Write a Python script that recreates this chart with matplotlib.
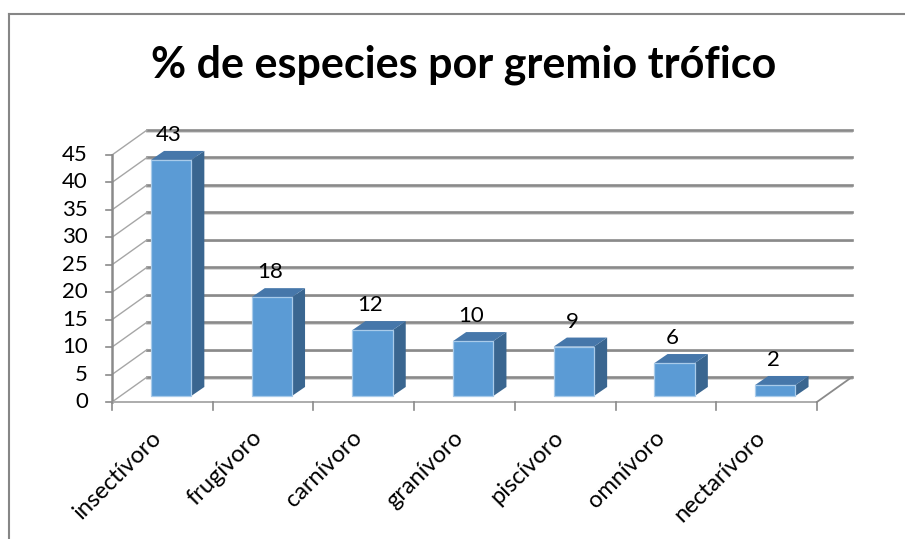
import matplotlib
matplotlib.use("Agg")
import matplotlib.pyplot as plt
from matplotlib.patches import Polygon
from matplotlib.lines import Line2D

plt.rcParams['font.family'] = ['Lato', 'DejaVu Sans']

# datos
gremios = ['insectívoro', 'frugívoro', 'carnívoro', 'granívoro',
           'piscívoro', 'omnívoro', 'nectarívoro']
porcentaje = [43, 18, 12, 10, 9, 6, 2]
ticks_y = [0, 5, 10, 15, 20, 25, 30, 35, 40, 45]
titulo = '% de especies por gremio trófico'

W, H = 905, 539
fig = plt.figure(figsize=(W / 100, H / 100), dpi=100)
ax = fig.add_axes([0, 0, 1, 1])

# escala: unidades de categoria en x, porcentaje en y
px_cat = 100.7
px_val = 5.489
x0, y0 = 112, 402
ax.set_xlim(-x0 / px_cat, (W - x0) / px_cat)
ax.set_ylim(-(H - y0) / px_val, y0 / px_val)
ax.axis('off')

n = len(gremios)
ymax = ticks_y[-1]
DX, DY = 0.348, 4.55        # profundidad de la pared
BDX, BDY = 0.13, 1.64       # profundidad de la barra
off_x, off_y = 0.087, 1.1   # barras a media profundidad
ancho = 0.4

gris = '#8a8a8a'
gris_claro = '#d2d2d2'

# lineas de division en la pared del fondo
for v in ticks_y:
    ax.plot([DX, n + DX], [v + DY - 0.3, v + DY - 0.3], color=gris_claro, lw=1.3, zorder=1)
    ax.plot([DX, n + DX], [v + DY, v + DY], color=gris, lw=1.9, zorder=2)
    # pared lateral
    ax.plot([0, DX], [v, v + DY], color='#a6a6a6', lw=1.0, zorder=2)
    # marcas del eje y
    ax.plot([-0.06, 0], [v, v], color=gris, lw=1.2, zorder=2)
    ax.text(-0.24, v, str(v), ha='right', va='center', fontsize=16, color='black')

# eje y y suelo
ax.plot([0, 0], [0, ymax], color=gris, lw=1.8, zorder=2)
ax.plot([0, n], [0, 0], color='#a6a6a6', lw=1.3, zorder=2)
ax.plot([n, n + DX], [0, DY], color=gris, lw=1.3, zorder=2)
for k in range(n + 1):
    ax.plot([k, k], [0, -1.5], color=gris, lw=1.2, zorder=2)

# barras 3D
for i, v in enumerate(porcentaje):
    l = i + 0.5 + off_x - ancho / 2
    r = l + ancho
    b = off_y
    t = off_y + v
    ax.add_patch(Polygon([(r, b), (r + BDX, b + BDY), (r + BDX, t + BDY), (r, t)],
                         closed=True, facecolor='#3a6690', edgecolor='none', zorder=3))
    ax.add_patch(Polygon([(l, t), (r, t), (r + BDX, t + BDY), (l + BDX, t + BDY)],
                         closed=True, facecolor='#4677aa', edgecolor='none', zorder=3))
    ax.add_patch(Polygon([(l, b), (r, b), (r, t), (l, t)],
                         closed=True, facecolor='#5b9bd5', edgecolor='#a9cbea',
                         lw=0.9, zorder=4))
    ax.text(i + 0.5 + off_x - 0.02, t + BDY + 1.8, str(v), ha='center', va='baseline',
            fontsize=16, color='black', zorder=5)
    ax.text(i + 0.38, -4.5, gremios[i], rotation=45, rotation_mode='anchor',
            ha='right', va='top', fontsize=17, color='black')

fig.text(463.5 / W, 1 - 65 / H, titulo, ha='center', va='center',
         fontsize=31, fontweight='bold', color='black')

# marco del grafico
fy = 1 - 14 / H
fx = 9 / W
fig.add_artist(Line2D([fx, 1], [fy, fy], color='#868686', lw=1.5))
fig.add_artist(Line2D([fx, fx], [0, fy], color='#868686', lw=1.5))

fig.savefig('out.png', dpi=100)
